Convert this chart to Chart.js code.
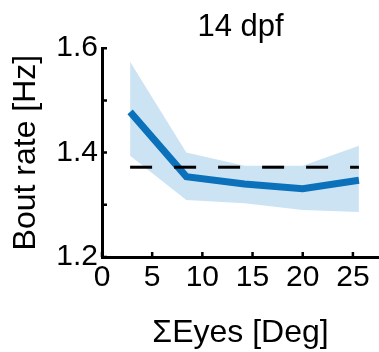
<!DOCTYPE html>
<html>
<head>
<meta charset="utf-8">
<script src="https://cdn.jsdelivr.net/npm/chart.js@4.4.0/dist/chart.umd.min.js"></script>
<style>
  html, body { margin: 0; padding: 0; background: #fff; }
  #wrap { width: 379px; height: 352px; }
</style>
</head>
<body>
<div id="wrap"><canvas id="myChart" width="379" height="352"></canvas></div>
<script>
// eye angle bins (deg)
var eyeAngles = [2.8, 8.4, 14.2, 20.0, 25.6];
// mean bout rate and confidence band (Hz)
var boutRate = [1.478, 1.354, 1.340, 1.331, 1.347];
var bandUpper = [1.574, 1.400, 1.375, 1.375, 1.413];
var bandLower = [1.394, 1.309, 1.303, 1.290, 1.286];
// baseline (dashed)
var baselineX = [2.8, 25.6];
var baselineY = 1.372;

var xTicks = [0, 5, 10, 15, 20, 25];
var yTicks = [1.2, 1.3, 1.4, 1.5, 1.6];
var yLabels = ['1.2', '', '1.4', '', '1.6'];

function pts(xs, ys) {
    return xs.map(function(x, i) { return {x: x, y: ys[i]}; });
}

var fontFamily = 'Liberation Sans, Arial, Helvetica, sans-serif';

// inward tick marks, like the original figure
var innerTicks = {
    id: 'innerTicks',
    afterDraw: function(chart) {
        var ctx = chart.ctx;
        var xs = chart.scales.x, ys = chart.scales.y;
        var area = chart.chartArea;
        ctx.save();
        ctx.strokeStyle = '#000';
        ctx.lineWidth = 2.5;
        ctx.beginPath();
        xTicks.forEach(function(v) {
            var px = xs.getPixelForValue(v);
            ctx.moveTo(px, area.bottom);
            ctx.lineTo(px, area.bottom - 5);
        });
        yTicks.forEach(function(v) {
            var py = ys.getPixelForValue(v);
            ctx.moveTo(area.left, py);
            ctx.lineTo(area.left + 5, py);
        });
        ctx.stroke();
        ctx.restore();
    }
};

var ctx = document.getElementById('myChart');
var myLineChart = new Chart(ctx, {
    type: 'line',
    data: {
        datasets: [{
            data: pts(eyeAngles, bandUpper),
            borderWidth: 0,
            borderColor: 'rgba(0,0,0,0)',
            pointRadius: 0,
            fill: false,
            order: 3
        }, {
            data: pts(eyeAngles, bandLower),
            borderWidth: 0,
            borderColor: 'rgba(0,0,0,0)',
            backgroundColor: '#cce3f4',
            pointRadius: 0,
            fill: '-1',
            order: 3
        }, {
            data: pts(baselineX, [baselineY, baselineY]),
            borderColor: '#000',
            borderWidth: 3,
            borderDash: [22, 22],
            pointRadius: 0,
            fill: false,
            order: 1
        }, {
            data: pts(eyeAngles, boutRate),
            borderColor: '#0a71ba',
            borderWidth: 7,
            pointRadius: 0,
            fill: false,
            order: 2
        }]
    },
    options: {
        responsive: false,
        animation: false,
        layout: { padding: 0 },
        plugins: {
            legend: { display: false },
            tooltip: { enabled: false },
            title: {
                display: true,
                text: '14 dpf',
                fullSize: false,
                color: '#000',
                font: { family: fontFamily, size: 31, weight: 'normal' },
                padding: { top: 9, bottom: 2 }
            }
        },
        scales: {
            x: {
                type: 'linear',
                min: 0,
                max: 27.6,
                afterFit: function(s) { s.height = 95; },
                afterBuildTicks: function(s) {
                    s.ticks = xTicks.map(function(v) { return {value: v}; });
                },
                grid: { display: false, drawTicks: false, tickLength: 0 },
                border: { color: '#000', width: 3 },
                ticks: {
                    color: '#000',
                    padding: 3,
                    maxRotation: 0,
                    font: { family: fontFamily, size: 30 }
                },
                title: {
                    display: true,
                    text: '\u03A3Eyes [Deg]',
                    color: '#000',
                    font: { family: fontFamily, size: 32 },
                    padding: { top: 0, bottom: 0 }
                }
            },
            y: {
                type: 'linear',
                min: 1.2,
                max: 1.6,
                afterFit: function(s) { s.width = 102; },
                afterBuildTicks: function(s) {
                    s.ticks = yTicks.map(function(v) { return {value: v}; });
                },
                grid: { display: false, drawTicks: false, tickLength: 0 },
                border: { color: '#000', width: 3 },
                ticks: {
                    color: '#000',
                    padding: 4,
                    font: { family: fontFamily, size: 30 },
                    callback: function(v, i) { return yLabels[i]; }
                },
                title: {
                    display: true,
                    text: 'Bout rate [Hz]',
                    color: '#000',
                    font: { family: fontFamily, size: 32 },
                    padding: { top: 7, bottom: 0 }
                }
            }
        }
    },
    plugins: [innerTicks]
});
</script>
</body>
</html>
